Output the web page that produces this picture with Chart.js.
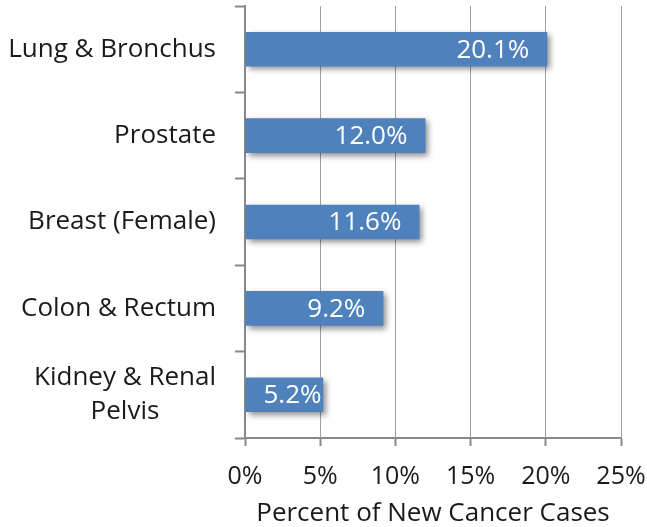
<!DOCTYPE html>
<html>
<head>
<meta charset="utf-8">
<script src="https://cdn.jsdelivr.net/npm/chart.js@4/dist/chart.umd.min.js"></script>
<style>
  html, body { margin: 0; padding: 0; background: #fff; }
  #wrap { width: 647px; height: 527px; }
</style>
</head>
<body>
<div id="wrap"><canvas id="cancerChart"></canvas></div>
<script>
// hodnoty odčítané z obrázka
const categories = [['Lung & Bronchus'], ['Prostate'], ['Breast (Female)'], ['Colon & Rectum'], ['Kidney & Renal', 'Pelvis']];
const percentNew = [20.1, 12.0, 11.6, 9.2, 5.2];
const xMin = 0, xMax = 25, xStep = 5;
const axisTitle = 'Percent of New Cancer Cases';

const FONT = "'Open Sans', sans-serif";
const axisGray = '#898989';

// tieň pod stĺpcami
const barShadow = {
    id: 'barShadow',
    beforeDatasetDraw(chart) {
        const ctx = chart.ctx;
        ctx.save();
        ctx.shadowColor = 'rgba(0,0,0,0.45)';
        ctx.shadowBlur = 6;
        ctx.shadowOffsetX = 3;
        ctx.shadowOffsetY = 3;
    },
    afterDatasetDraw(chart) {
        chart.ctx.restore();
    }
};

// popisy kategórií (blok zarovnaný vpravo, riadky na stred)
const catLabels = {
    id: 'catLabels',
    afterDraw(chart) {
        const ctx = chart.ctx;
        const y = chart.scales.y;
        const right = 216;
        const lh = 34;
        ctx.save();
        ctx.font = '26px ' + FONT;
        ctx.fillStyle = '#1a1a1a';
        ctx.textAlign = 'center';
        ctx.textBaseline = 'middle';
        categories.forEach((lines, i) => {
            const cy = y.getPixelForValue(i);
            const w = Math.max(...lines.map(l => ctx.measureText(l).width));
            const cx = right - w / 2;
            lines.forEach((l, j) => {
                ctx.fillText(l, cx, cy + (j - (lines.length - 1) / 2) * lh);
            });
        });
        ctx.restore();
    }
};

// hodnoty vnútri stĺpcov
const valueLabels = {
    id: 'valueLabels',
    afterDatasetsDraw(chart) {
        const ctx = chart.ctx;
        const meta = chart.getDatasetMeta(0);
        ctx.save();
        ctx.font = '26px ' + FONT;
        ctx.fillStyle = '#ffffff';
        ctx.textAlign = 'right';
        ctx.textBaseline = 'middle';
        meta.data.forEach((bar, i) => {
            const txt = percentNew[i].toFixed(1) + '%';
            const w = ctx.measureText(txt).width;
            const x = Math.max(bar.x - 18, bar.base + 18 + w);
            ctx.fillText(txt, x, bar.y + 1);
        });
        ctx.restore();
    }
};

const ctx = document.getElementById('cancerChart').getContext('2d');
const chart = new Chart(ctx, {
    type: 'bar',
    data: {
        labels: categories,
        datasets: [{
            data: percentNew,
            backgroundColor: '#4F81BD',
            borderWidth: 0,
            barPercentage: 0.4,
            categoryPercentage: 1.0
        }]
    },
    options: {
        indexAxis: 'y',
        responsive: true,
        maintainAspectRatio: false,
        animation: false,
        layout: { padding: { top: 6, right: 26, left: 0, bottom: 0 } },
        plugins: {
            legend: { display: false },
            tooltip: { enabled: false }
        },
        scales: {
            x: {
                min: xMin,
                max: xMax,
                ticks: {
                    stepSize: xStep,
                    maxRotation: 0,
                    color: '#1a1a1a',
                    font: { family: FONT, size: 25 },
                    padding: 16,
                    callback: v => v + '%'
                },
                grid: {
                    color: '#a0a0a0',
                    lineWidth: 1,
                    borderDash: [1, 1],
                    tickLength: 8,
                    tickColor: axisGray,
                    tickWidth: 2,
                    tickBorderDash: []
                },
                border: { display: true, color: axisGray, width: 2 },
                title: {
                    display: true,
                    text: axisTitle,
                    color: '#1a1a1a',
                    font: { family: FONT, size: 26, lineHeight: 1.0 },
                    padding: { top: 2, bottom: 0 }
                },
                afterFit(scale) {
                    scale.height = 527 - 438;
                    scale.paddingLeft = 0;
                    scale.paddingRight = 0;
                }
            },
            y: {
                ticks: { display: false },
                grid: {
                    offset: true,
                    drawOnChartArea: false,
                    tickLength: 10,
                    tickColor: axisGray,
                    tickWidth: 2
                },
                border: { display: true, color: axisGray, width: 2 },
                afterFit(scale) { scale.width = 245; }
            }
        }
    },
    plugins: [barShadow, valueLabels, catLabels]
});
</script>
</body>
</html>
